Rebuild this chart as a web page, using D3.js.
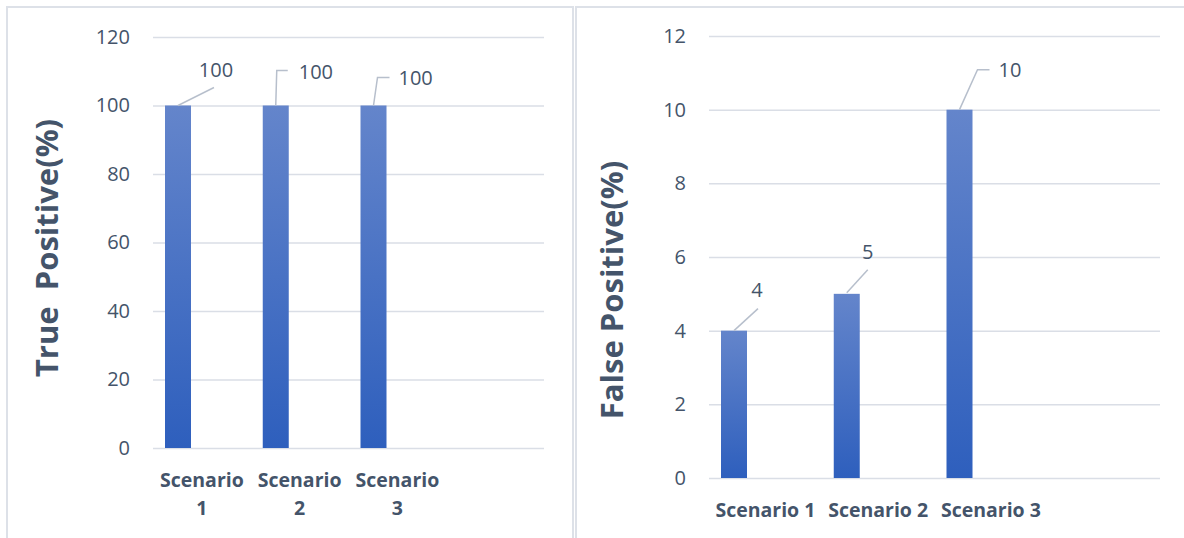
<!DOCTYPE html>
<html>
<head>
<meta charset="utf-8">
<script src="https://cdn.jsdelivr.net/npm/d3@7"></script>
<style>
  html, body { margin: 0; padding: 0; background: #ffffff; }
  svg { display: block; }
  text { font-family: "Open Sans", "Noto Sans", sans-serif; }
</style>
</head>
<body>
<svg id="chart" width="1184" height="538"></svg>
<script>
// ---- data ----
const categories = ["Scenario 1", "Scenario 2", "Scenario 3", ""];
const truePositive = [100, 100, 100];
const falsePositive = [4, 5, 10];
const tpTicks = [0, 20, 40, 60, 80, 100, 120];
const fpTicks = [0, 2, 4, 6, 8, 10, 12];

// ---- layout for each panel ----
const panels = [
  {
    values: truePositive, ticks: tpTicks, max: 120,
    title: "True  Positive(%)",
    frame: [7, 7, 566, 540],
    x0: 153, x1: 544, y0: 448, y1: 37,
    titleX: 58, titleY: 248,
    wrapLabels: true,
    // leader line points and label anchor, relative to each bar's top centre
    leaders: [
      { pts: [[0, 0], [36, -18]], lx: 38, ly: -36, anchor: "middle" },
      { pts: [[0, 0], [1, -35], [12, -35]], lx: 23, ly: -34, anchor: "start" },
      { pts: [[0, 0], [4, -28], [16, -28]], lx: 25, ly: -28, anchor: "start" }
    ]
  },
  {
    values: falsePositive, ticks: fpTicks, max: 12,
    title: "False Positive(%)",
    frame: [576, 7, 620, 540],
    x0: 709, x1: 1160, y0: 478, y1: 36,
    titleX: 623, titleY: 290,
    wrapLabels: false,
    leaders: [
      { pts: [[0, 0], [24, -22]], lx: 23, ly: -41, anchor: "middle" },
      { pts: [[0, -1], [21, -24]], lx: 21, ly: -41.5, anchor: "middle" },
      { pts: [[0, 0], [18, -40], [30, -40]], lx: 39, ly: -39.5, anchor: "start" }
    ]
  }
];

const textColor = "#44546a";
const gridColor = "#dadee6";
const svg = d3.select("#chart");

// vertical gradient shared by all bars (lighter at the top)
const defs = svg.append("defs");
const grad = defs.append("linearGradient")
  .attr("id", "barFill").attr("x1", 0).attr("y1", 0).attr("x2", 0).attr("y2", 1);
grad.append("stop").attr("offset", "0%").attr("stop-color", "#6485cb");
grad.append("stop").attr("offset", "100%").attr("stop-color", "#2e5fbd");

panels.forEach(p => {
  const g = svg.append("g");

  // panel frame
  g.append("rect")
    .attr("x", p.frame[0]).attr("y", p.frame[1])
    .attr("width", p.frame[2]).attr("height", p.frame[3])
    .attr("fill", "none").attr("stroke", "#dde1e8").attr("stroke-width", 2);

  const x = d3.scaleBand().domain(categories).range([p.x0, p.x1]);
  const y = d3.scaleLinear().domain([0, p.max]).range([p.y0, p.y1]);

  // y axis with gridlines
  const yAxis = g.append("g")
    .attr("transform", `translate(${p.x0},0)`)
    .call(d3.axisLeft(y).tickValues(p.ticks).tickSize(-(p.x1 - p.x0)).tickPadding(23).tickFormat(d3.format("d")));
  yAxis.select(".domain").remove();
  yAxis.selectAll(".tick line").attr("stroke", gridColor).attr("stroke-width", 1.5);
  yAxis.selectAll(".tick text")
    .attr("fill", textColor).attr("font-size", 20)
    .style("font-family", "'Open Sans', sans-serif");

  // x axis labels
  const xAxis = g.append("g")
    .attr("transform", `translate(0,${p.y0})`)
    .call(d3.axisBottom(x).tickSize(0).tickPadding(0));
  xAxis.select(".domain").remove();
  xAxis.selectAll(".tick text")
    .attr("fill", textColor).attr("font-size", 19.5).attr("font-weight", "bold")
    .style("font-family", "'Open Sans', sans-serif")
    .each(function (d) {
      const t = d3.select(this);
      t.text(null).attr("y", 0).attr("dy", null);
      if (p.wrapLabels) {
        const parts = d.split(" ");
        parts.forEach((w, i) => {
          t.append("tspan").attr("x", 0).attr("y", 39 + i * 28).text(w);
        });
      } else {
        t.append("tspan").attr("x", 0).attr("y", 39).text(d);
      }
    });

  // bars
  const barW = 26, barOff = 12;
  g.selectAll("rect.bar")
    .data(p.values)
    .join("rect")
    .attr("class", "bar")
    .attr("x", (d, i) => x(categories[i]) + barOff)
    .attr("width", barW)
    .attr("y", d => y(d))
    .attr("height", d => y(0) - y(d))
    .attr("fill", "url(#barFill)");

  // data labels with leader lines
  p.values.forEach((v, i) => {
    const cx = x(categories[i]) + barOff + barW / 2;
    const cy = y(v);
    const L = p.leaders[i];
    g.append("path")
      .attr("d", d3.line()(L.pts.map(([dx, dy]) => [cx + dx, cy + dy])))
      .attr("fill", "none").attr("stroke", "#b7bfcc").attr("stroke-width", 1.5);
    g.append("text")
      .attr("x", cx + L.lx).attr("y", cy + L.ly + 7)
      .attr("text-anchor", L.anchor)
      .attr("fill", textColor).attr("font-size", 20)
      .text(v);
  });

  // y axis title
  g.append("text")
    .attr("transform", `translate(${p.titleX},${p.titleY}) rotate(-90)`)
    .attr("text-anchor", "middle")
    .attr("fill", textColor).attr("font-size", 31).attr("font-weight", "bold")
    .style("white-space", "pre")
    .attr("xml:space", "preserve")
    .text(p.title);
});
</script>
</body>
</html>
